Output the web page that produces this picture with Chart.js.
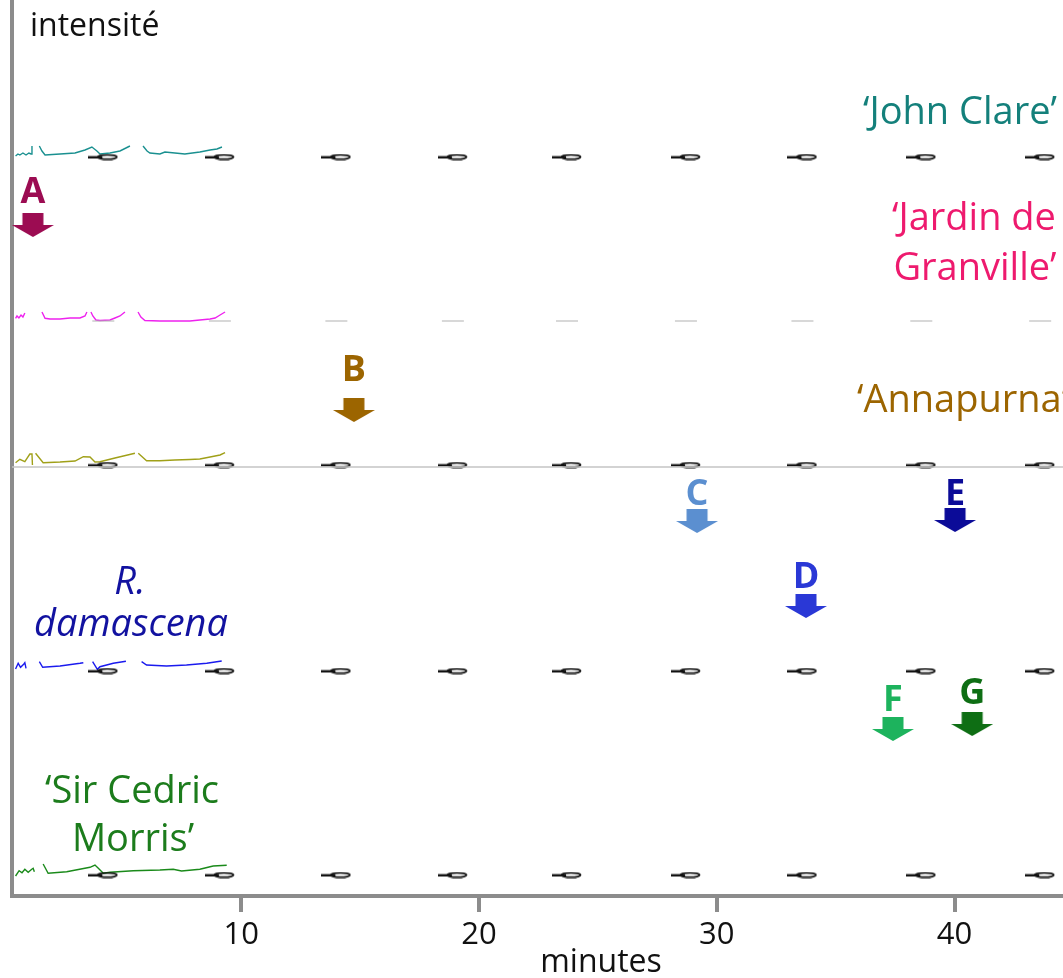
<!DOCTYPE html>
<html>
<head>
<meta charset="utf-8">
<script src="https://cdn.jsdelivr.net/npm/chart.js@4/dist/chart.umd.min.js"></script>
<style>
  html, body { margin: 0; padding: 0; background: #fff; }
  canvas { display: block; }
</style>
</head>
<body>
<canvas id="chart" width="1063" height="978"></canvas>
<script>
// x ticks (minutes)
const tickMinutes = [10, 20, 30, 40];

// chromatograms: time (min) and intensity above each trace's baseline, null = gap
const johnClareTime = [0.51, 0.61, 0.69, 0.82, 0.95, 1.07, 1.16, 1.20, 1.35, 1.51, 1.62, 1.75, 2.38, 3.01, 3.43, 3.72, 3.93, 4.06, 4.48, 4.90, 5.32, 5.60, 5.87, 6.04, 6.16, 6.58, 6.79, 7.21, 7.63, 8.26, 8.69, 8.98, 9.19];
const johnClareInt  = [0, 2, 1, 3, 1, 3, 2, 10, null, 10, 5, 1, 2, 3, 6, 9, 5, 2, 3, 5, 10, null, 10, 5, 3, 2, 4, 3, 2, 4, 6, 7, 9];

const jardinTime = [0.51, 0.57, 0.65, 0.74, 0.82, 0.90, 1.30, 1.62, 1.75, 1.96, 2.38, 2.80, 3.22, 3.43, 3.51, 3.60, 3.68, 3.76, 3.89, 4.06, 4.48, 4.69, 4.90, 5.11, 5.50, 5.66, 5.78, 5.95, 6.58, 7.21, 7.84, 8.26, 8.69, 8.90, 9.11, 9.32];
const jardinInt  = [1.7, 4, 2, 5, 3, 7, null, 8, 1.7, 1, 1, 2, 2, 4, 8, null, 8, 4, 0, -0.5, 0, 2, 4, 8, null, 8, 3, -0.5, -1, -1, -1, 0, 1, 2, 5, 8];

const annapurnaTime = [0.51, 0.69, 0.90, 1.11, 1.20, 1.22, 1.30, 1.35, 1.67, 2.38, 3.01, 3.36, 3.64, 3.85, 4.06, 4.69, 5.53, 5.60, 5.67, 6.02, 6.58, 7.21, 7.84, 8.26, 8.69, 9.11, 9.32];
const annapurnaInt  = [3.3, 6.7, 4.3, 12, 12, 1, null, 12.7, 3.3, 4, 5, 9.3, 9, 4, 4.3, 8, 12.7, null, 12.7, 5.3, 5.3, 6, 6.5, 7, 9, 11, 13.3];

const damascenaTime = [0.51, 0.62, 0.72, 0.86, 0.90, 0.95, 1.20, 1.51, 1.65, 2.38, 3.22, 3.36, 3.55, 3.75, 3.95, 4.06, 4.62, 5.15, 5.50, 5.81, 6.02, 6.86, 7.70, 8.55, 9.18];
const damascenaInt  = [0, 5.7, 1.7, 5, 6.3, 0.7, null, 7.3, 1.7, 3, 5.7, 6.3, null, 7.3, -0.3, 2.3, 5.7, 7.7, null, 7.3, 4, 3, 4, 5.7, 8];

const cedricTime = [0.51, 0.66, 0.78, 0.90, 1.04, 1.19, 1.25, 1.30, 1.50, 1.67, 1.88, 2.66, 3.64, 3.85, 3.99, 4.20, 4.48, 5.46, 6.58, 7.14, 7.49, 8.26, 8.82, 9.39];
const cedricInt  = [0, 5.3, 3.3, 6.7, 3.7, 6.7, 7.7, 4.3, null, 12, 2.7, 4.3, 8.7, 11, 7.7, 2.7, 3.7, 5.3, 6, 6.7, 5, 6.7, 10, 10.7];

// baseline level of each stacked trace (intensité units)
const traceOffsets = [740, 576, 430, 227, 20];

// small dark marks repeated along each trace
const markTimes = [4.2, 9.1, 14.0, 18.9, 23.7, 28.7, 33.6, 38.6, 43.6];
const markLevels = [739, 575, 431, 225, 21];

// labelled peaks
const peakLetters = ['A', 'B', 'C', 'D', 'E', 'F', 'G'];
const peakTimes = [1.24, 14.74, 29.17, 33.75, 40.02, 37.41, 40.74];
const arrowLevels = [671, 486, 375, 290, 376, 167, 172];
const letterLevels = [693, 515, 391, 308, 391, 185, 192];
const peakColors = ['#9c0c52', '#9c6500', '#5b8fd0', '#2a38d6', '#0b0b98', '#1db35d', '#0e6e14'];

const xMin = 0.36, xMax = 44.56;
const FONT = '"Open Sans", "DejaVu Sans", sans-serif';

function toPoints(times, vals, offset) {
    return times.map((t, i) => ({ x: t, y: vals[i] === null ? null : offset + vals[i] }));
}

// down arrow drawn once per colour, used as point image
function makeArrow(color) {
    const c = document.createElement('canvas');
    c.width = 42; c.height = 24;
    const g = c.getContext('2d');
    g.fillStyle = color;
    g.fillRect(10.5, 0, 21, 12.5);
    g.beginPath();
    g.moveTo(0, 12); g.lineTo(42, 12); g.lineTo(21, 24); g.closePath();
    g.fill();
    return c;
}

function makeMark(dark) {
    const c = document.createElement('canvas');
    c.width = 30; c.height = 7;
    const g = c.getContext('2d');
    if (dark) {
        g.strokeStyle = '#111';
        g.lineWidth = 1.8;
        g.beginPath();
        g.ellipse(19, 3.5, 9.5, 2.2, 0, 0, Math.PI * 2);
        g.stroke();
        g.fillStyle = '#111';
        g.fillRect(0, 2.6, 14, 2.4);
    } else {
        g.fillStyle = '#b0b0b0';
        g.fillRect(4, 3, 22, 1);
    }
    return c;
}

const traceColors = ['#1a9090', '#ee22ee', '#a0a018', '#1a1aee', '#1a8a1a'];
const traces = [
    toPoints(johnClareTime, johnClareInt, traceOffsets[0]),
    toPoints(jardinTime, jardinInt, traceOffsets[1]),
    toPoints(annapurnaTime, annapurnaInt, traceOffsets[2]),
    toPoints(damascenaTime, damascenaInt, traceOffsets[3]),
    toPoints(cedricTime, cedricInt, traceOffsets[4])
];

const datasets = [];

// Annapurna has its own thin grey baseline across the plot
datasets.push({
    data: [{ x: xMin, y: traceOffsets[2] - 1 }, { x: xMax, y: traceOffsets[2] - 1 }],
    borderColor: '#c4c4c4', borderWidth: 1.5, pointRadius: 0
});

// marks
const markPts = [];
const markStyles = [];
markLevels.forEach((lvl, r) => {
    markTimes.forEach(t => {
        markPts.push({ x: t, y: lvl });
        markStyles.push(makeMark(r !== 1));
    });
});
datasets.push({
    type: 'scatter', data: markPts, pointStyle: markStyles, pointRadius: 3,
    showLine: false, borderWidth: 0
});

traces.forEach((pts, i) => {
    datasets.push({
        data: pts, borderColor: traceColors[i], borderWidth: 1.4,
        pointRadius: 0, tension: 0, spanGaps: false
    });
});

// arrows
datasets.push({
    type: 'scatter',
    data: peakTimes.map((t, i) => ({ x: t, y: arrowLevels[i] })),
    pointStyle: peakColors.map(makeArrow), pointRadius: 5, showLine: false
});

const textPlugin = {
    id: 'texts',
    afterDraw(chart) {
        const ctx = chart.ctx;
        const xs = chart.scales.x, ys = chart.scales.y;
        ctx.save();
        ctx.textBaseline = 'alphabetic';

        ctx.fillStyle = '#111';
        ctx.font = '32px ' + FONT;
        ctx.textAlign = 'left';
        ctx.fillText('intensité', 30, 36);
        ctx.textAlign = 'center';
        ctx.fillText('minutes', 601, 972);

        // sample names
        ctx.font = '38px ' + FONT;
        ctx.fillStyle = '#14807b';
        ctx.fillText('\u2018John Clare\u2019', 960, 124);
        ctx.fillStyle = '#ee1a6e';
        ctx.fillText('\u2018Jardin de', 974, 230);
        ctx.fillText('Granville\u2019', 975, 280);
        ctx.fillStyle = '#9c6500';
        ctx.textAlign = 'left';
        ctx.fillText('\u2018Annapurna\u2019', 857, 412);
        ctx.textAlign = 'center';
        ctx.fillStyle = '#1212a0';
        ctx.font = 'italic 38px ' + FONT;
        ctx.fillText('R.', 130, 594);
        ctx.fillText('damascena', 131, 636);
        ctx.font = '38px ' + FONT;
        ctx.fillStyle = '#1c7c1c';
        ctx.fillText('\u2018Sir Cedric', 132, 803);
        ctx.fillText('Morris\u2019', 133, 851);

        // peak letters
        ctx.font = 'bold 36px ' + FONT;
        peakLetters.forEach((l, i) => {
            ctx.fillStyle = peakColors[i];
            ctx.fillText(l, xs.getPixelForValue(peakTimes[i]), ys.getPixelForValue(letterLevels[i]));
        });
        ctx.restore();
    }
};

new Chart(document.getElementById('chart'), {
    type: 'line',
    data: { datasets: datasets },
    options: {
        responsive: false,
        animation: false,
        layout: { autoPadding: false, padding: 0 },
        plugins: { legend: { display: false }, tooltip: { enabled: false } },
        scales: {
            x: {
                type: 'linear', min: xMin, max: xMax,
                afterBuildTicks: s => { s.ticks = tickMinutes.map(v => ({ value: v })); },
                afterFit: s => { s.height = 82; s.paddingLeft = 0; s.paddingRight = 0; },
                grid: { display: true, drawOnChartArea: false, drawTicks: true, tickLength: 16, color: '#8c8c8c', lineWidth: 4 },
                border: { display: true, color: '#8c8c8c', width: 4 },
                ticks: { color: '#111', font: { family: FONT, size: 31 }, padding: 5, maxRotation: 0, autoSkip: false }
            },
            y: {
                type: 'linear', min: 0, max: 896,
                afterFit: s => { s.width = 12; s.paddingTop = 0; s.paddingBottom = 0; },
                grid: { display: false },
                border: { display: true, color: '#8c8c8c', width: 4 },
                ticks: { display: false }
            }
        }
    },
    plugins: [textPlugin]
});
</script>
</body>
</html>
